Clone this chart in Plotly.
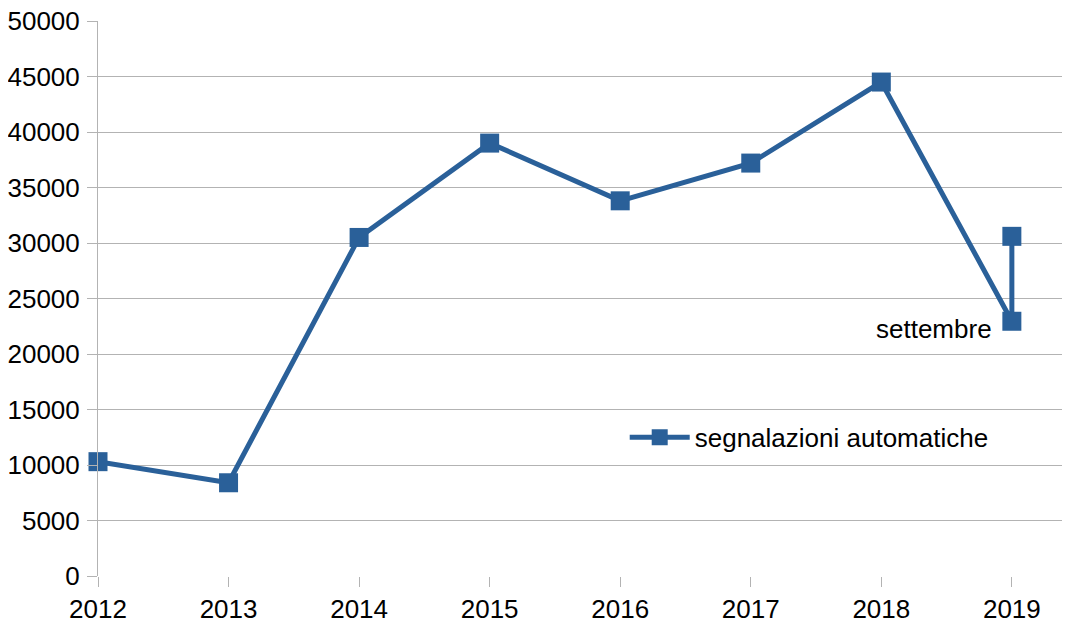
import plotly.graph_objects as go

years = [2012, 2013, 2014, 2015, 2016, 2017, 2018, 2019, 2019]
values = [10300, 8400, 30500, 39000, 33800, 37200, 44500, 22950, 30600]
series_name = "segnalazioni automatiche"
tick_years = [2012, 2013, 2014, 2015, 2016, 2017, 2018, 2019]
y_ticks = list(range(0, 50001, 5000))
note_text = "settembre"
note_year = 2019
note_value = 22950

color = "#2a6099"
grid = "#b3b3b3"
font_family = "Liberation Sans, Arial, sans-serif"

fig = go.Figure()
fig.add_trace(go.Scatter(
    x=years, y=values, mode="lines+markers", name=series_name,
    line=dict(color=color, width=5),
    marker=dict(symbol="square", size=19, color=color),
    cliponaxis=False,
))

fig.add_annotation(
    x=note_year, y=note_value, xref="x", yref="y", text=note_text,
    showarrow=False, xanchor="right", yanchor="middle", xshift=-18, yshift=-8,
    font=dict(size=26, color="#000000", family=font_family),
)

# page body has an 8px default margin, so the figure is sized/offset to compensate
fig.update_layout(
    width=1062, height=612,
    margin=dict(l=90, r=2, t=13, b=44, autoexpand=False),
    paper_bgcolor="white", plot_bgcolor="white",
    font=dict(family=font_family, size=26, color="#000000"),
    showlegend=True,
    legend=dict(x=0.543, y=0.25, xanchor="left", yanchor="middle",
                bgcolor="rgba(0,0,0,0)", font=dict(size=26), itemwidth=60),
    xaxis=dict(
        range=[2012, 2019.43], tickvals=tick_years, ticktext=[str(y) for y in tick_years],
        showgrid=False, zeroline=False, showline=False, automargin=False,
        ticks="outside", ticklen=10, tickcolor=grid, tickwidth=1,
        ticklabeloverflow="allow",
    ),
    yaxis=dict(
        range=[0, 50000], tickvals=y_ticks, ticktext=[str(v) for v in y_ticks],
        showgrid=True, gridcolor=grid, gridwidth=1, zeroline=False, automargin=False,
        showline=True, linecolor=grid, linewidth=1,
        ticks="outside", ticklen=10, tickcolor=grid, tickwidth=1,
        ticklabelstandoff=2, ticklabeloverflow="allow",
    ),
)

fig.write_html("out.html")
